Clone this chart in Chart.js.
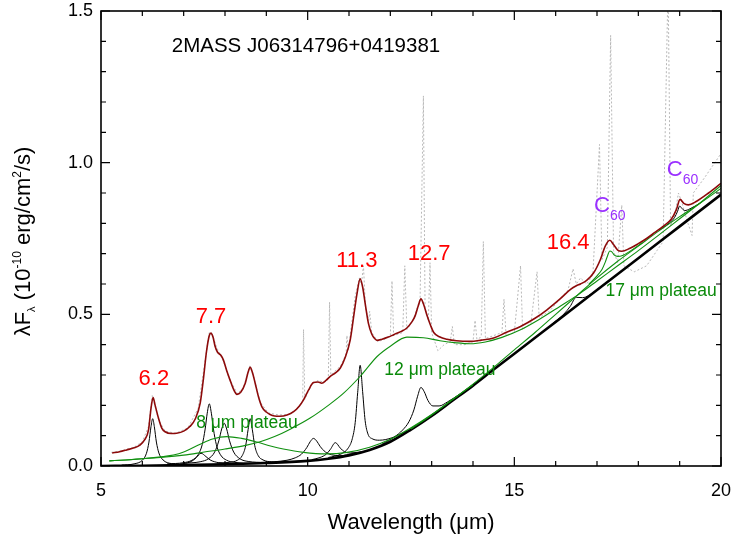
<!DOCTYPE html>
<html><head><meta charset="utf-8">
<script src="https://cdn.jsdelivr.net/npm/chart.js@4.4.1/dist/chart.umd.min.js"></script>
<style>html,body{margin:0;padding:0;background:#fff;}canvas{display:block;}</style>
</head><body>
<canvas id="c" width="731" height="538"></canvas>
<script>
// ---------- tick labels ----------
const xTicks = [5, 10, 15, 20];
const yTicks = [0, 0.5, 1.0, 1.5];
const yTickLabels = ['0.0', '0.5', '1.0', '1.5'];

// ---------- observed spectrum (grey dotted) ----------
const obsWl   = [5.25,5.5,5.8,6.0,6.15,6.24,6.3,6.4,6.55,6.8,7.1,7.35,7.5,7.62,7.7,7.8,7.95,8.1,8.3,8.45,8.6,8.7,8.85,9.05,9.3,9.55,9.75,9.88,9.9,9.93,10.1,10.25,10.4,10.5,10.53,10.56,10.8,10.93,10.95,10.98,11.15,11.25,11.3,11.35,11.4,11.48,11.5,11.55,11.7,11.9,12.0,12.04,12.08,12.3,12.35,12.4,12.55,12.72,12.8,12.84,12.92,12.96,13.0,13.15,13.3,13.45,13.5,13.55,13.8,14.0,14.05,14.1,14.2,14.25,14.3,14.5,14.7,14.75,14.8,15.0,15.15,15.2,15.4,15.55,15.6,15.85,16.1,16.3,16.42,16.5,16.6,16.75,16.9,17.06,17.12,17.25,17.33,17.4,17.5,17.6,17.65,17.9,18.2,18.45,18.6,18.72,18.78,18.9,18.97,19.05,19.2,19.3,19.33,19.6,20.0];
const obsFlux = [0.045,0.05,0.062,0.08,0.13,0.232,0.2,0.15,0.115,0.108,0.125,0.19,0.33,0.44,0.43,0.39,0.35,0.29,0.238,0.26,0.33,0.29,0.21,0.175,0.168,0.17,0.19,0.215,0.45,0.22,0.27,0.282,0.276,0.29,0.54,0.3,0.33,0.37,0.43,0.38,0.56,0.62,0.6,0.66,0.52,0.48,0.51,0.44,0.41,0.42,0.43,0.61,0.43,0.44,0.66,0.45,0.48,0.55,1.22,0.52,0.48,0.67,0.44,0.38,0.4,0.41,0.46,0.4,0.4,0.41,0.48,0.41,0.43,0.74,0.42,0.43,0.44,0.55,0.43,0.44,0.66,0.45,0.47,0.64,0.49,0.51,0.55,0.58,0.65,0.6,0.62,0.6,0.63,1.06,0.68,0.72,1.42,0.71,0.67,0.86,0.66,0.64,0.66,0.71,0.74,1.6,0.79,0.84,0.9,0.87,0.8,0.76,0.9,0.95,1.03];

// ---------- total fit (dark red) ----------
const totalWl   = [5.27,5.45,5.62,5.8,5.94,6.05,6.15,6.21,6.26,6.31,6.39,6.47,6.55,6.7,6.83,7.0,7.15,7.28,7.4,7.48,7.55,7.62,7.66,7.71,7.76,7.82,7.9,7.96,8.04,8.12,8.2,8.29,8.38,8.49,8.56,8.61,8.66,8.73,8.81,8.89,9.0,9.09,9.2,9.33,9.5,9.66,9.8,9.9,10.02,10.14,10.25,10.34,10.45,10.54,10.68,10.79,10.9,11.03,11.12,11.19,11.27,11.33,11.39,11.47,11.55,11.62,11.68,11.8,11.95,12.08,12.25,12.4,12.52,12.6,12.68,12.74,12.8,12.89,12.97,13.05,13.2,13.37,13.6,13.93,14.2,14.5,14.8,15.15,15.5,15.79,16.1,16.36,16.5,16.6,16.75,16.92,17.08,17.2,17.31,17.4,17.5,17.6,17.8,18.0,18.2,18.4,18.6,18.8,18.92,19.01,19.1,19.21,19.4,19.7,20.0];
const totalFlux = [0.043,0.047,0.053,0.06,0.069,0.085,0.119,0.19,0.226,0.2,0.158,0.125,0.113,0.107,0.108,0.115,0.13,0.155,0.207,0.29,0.375,0.43,0.438,0.425,0.395,0.375,0.365,0.35,0.315,0.284,0.255,0.236,0.243,0.273,0.31,0.325,0.31,0.273,0.228,0.196,0.178,0.17,0.165,0.164,0.168,0.179,0.198,0.218,0.25,0.275,0.277,0.273,0.283,0.295,0.308,0.323,0.355,0.416,0.5,0.565,0.617,0.59,0.537,0.47,0.435,0.42,0.414,0.418,0.425,0.433,0.443,0.455,0.475,0.495,0.53,0.551,0.535,0.495,0.465,0.44,0.425,0.418,0.413,0.411,0.415,0.422,0.44,0.46,0.487,0.515,0.55,0.582,0.594,0.6,0.612,0.637,0.68,0.725,0.744,0.73,0.712,0.708,0.718,0.733,0.75,0.77,0.79,0.814,0.845,0.879,0.866,0.861,0.872,0.9,0.932];

// ---------- continuum (thick black) ----------
const contWl   = [5.0,6.0,7.0,8.0,9.0,10.0,10.5,11.0,11.5,12.0,12.5,13.0,13.5,14.0,14.5,15.0,16.0,17.0,18.0,19.0,20.0];
const contFlux = [0.0,0.001,0.003,0.006,0.010,0.017,0.024,0.035,0.053,0.08,0.12,0.165,0.215,0.265,0.318,0.37,0.475,0.58,0.685,0.79,0.895];

// ---------- plateaus (green) ----------
const plat8Wl   = [5.2,5.6,6.0,6.5,6.75,7.0,7.4,7.7,8.04,8.4,8.77,9.1,9.41,9.9,10.46,10.95,11.5,12.0,12.5,13.0,13.5,14.0];
const plat8Flux = [0.017,0.02,0.024,0.031,0.036,0.046,0.072,0.089,0.097,0.091,0.079,0.066,0.056,0.045,0.040,0.045,0.062,0.088,0.126,0.17,0.219,0.268];
const plat12Wl   = [5.2,5.6,6.0,6.5,7.0,7.5,8.0,8.5,8.85,9.2,9.6,10.06,10.5,10.87,11.3,11.68,12.0,12.4,12.8,13.2,13.6,13.93,14.3,14.7,15.15,15.6,16.1,16.6,17.0,17.5,18.0,18.5,19.0,19.5,20.0];
const plat12Flux = [0.017,0.02,0.024,0.029,0.036,0.046,0.056,0.068,0.08,0.097,0.123,0.158,0.2,0.24,0.3,0.361,0.395,0.425,0.423,0.413,0.406,0.403,0.409,0.424,0.449,0.483,0.526,0.57,0.61,0.66,0.71,0.762,0.815,0.868,0.925];
const plat17Wl   = [12.5,13.0,13.5,14.0,14.5,15.0,15.5,16.0,16.5,17.0,17.5,18.0,18.5,19.0,19.5,20.0];
const plat17Flux = [0.122,0.168,0.218,0.27,0.325,0.383,0.44,0.5,0.56,0.62,0.675,0.725,0.775,0.822,0.867,0.915];
const c60gWl   = [16.8,17.0,17.12,17.2,17.26,17.31,17.36,17.42,17.5,17.62,17.82,18.1];
const c60gFlux = [0.599,0.627,0.648,0.672,0.695,0.709,0.706,0.695,0.691,0.694,0.71,0.736];

// ---------- individual bands (thin black) ----------
const b62Wl   = [5.5,5.8,6.0,6.1,6.16,6.21,6.25,6.29,6.34,6.4,6.5,6.7,7.0,7.5];
const b62Flux = [0.003,0.007,0.019,0.042,0.079,0.130,0.156,0.130,0.079,0.043,0.020,0.008,0.005,0.005];
const b74Wl   = [6.8,7.0,7.2,7.3,7.42,7.54,7.64,7.84,8.1];
const b74Flux = [0.006,0.008,0.016,0.027,0.042,0.031,0.020,0.011,0.008];
const b76Wl   = [6.6,7.0,7.2,7.35,7.45,7.52,7.57,7.62,7.67,7.72,7.79,7.89,8.04,8.24,8.64,9.0];
const b76Flux = [0.007,0.011,0.019,0.037,0.071,0.122,0.174,0.205,0.174,0.122,0.071,0.037,0.019,0.012,0.009,0.011];
const b80Wl   = [7.0,7.4,7.6,7.75,7.85,7.92,7.98,8.04,8.11,8.21,8.36,8.56,8.96,9.5];
const b80Flux = [0.009,0.014,0.024,0.046,0.083,0.122,0.141,0.122,0.083,0.046,0.024,0.015,0.012,0.014];
const b86Wl   = [7.8,8.1,8.3,8.42,8.5,8.56,8.61,8.66,8.72,8.8,8.92,9.12,9.42,9.8];
const b86Flux = [0.010,0.012,0.019,0.035,0.067,0.121,0.156,0.121,0.067,0.035,0.020,0.014,0.013,0.016];
const b101Wl   = [9.2,9.5,9.7,9.85,9.98,10.06,10.14,10.22,10.3,10.43,10.58,10.78,11.1];
const b101Flux = [0.014,0.019,0.027,0.039,0.061,0.080,0.091,0.082,0.065,0.046,0.037,0.034,0.041];
const b107Wl   = [10.1,10.3,10.45,10.55,10.67,10.79,10.89,11.04,11.3];
const b107Flux = [0.021,0.028,0.039,0.055,0.077,0.059,0.047,0.043,0.047];
const b113Wl   = [10.5,10.8,10.98,11.08,11.15,11.21,11.27,11.33,11.39,11.46,11.56,11.74,12.04,12.4];
const b113Flux = [0.028,0.039,0.059,0.090,0.143,0.242,0.332,0.245,0.150,0.105,0.090,0.085,0.093,0.116];
const b127Wl   = [11.8,12.1,12.3,12.45,12.57,12.66,12.74,12.82,12.91,13.03,13.18,13.38,13.68];
const b127Flux = [0.072,0.096,0.119,0.146,0.185,0.230,0.259,0.245,0.216,0.198,0.198,0.211,0.237];
const b164Wl   = [15.9,16.2,16.35,16.5,16.65,16.8,17.1];
const b164Flux = [0.467,0.501,0.526,0.556,0.555,0.562,0.592];
const b189Wl   = [18.5,18.75,18.88,18.95,19.0,19.05,19.12,19.25,19.5];
const b189Flux = [0.777,0.801,0.820,0.840,0.857,0.850,0.842,0.848,0.867];

function pts(wl, fl) { return wl.map((w, i) => ({x: w, y: fl[i]})); }

const FONT = '"Liberation Sans", Arial, Helvetica, sans-serif';
const RED = '#8c0a0a', GREEN = '#109010', BLACK = '#000';

function band(wl, fl) {
  return { data: pts(wl, fl), borderColor: BLACK, borderWidth: 1, order: 2,
           cubicInterpolationMode: 'monotone' };
}

const datasets = [
  { data: pts(totalWl, totalFlux), borderColor: RED, borderWidth: 1.6, order: 0, cubicInterpolationMode: 'monotone' },
  { data: pts(plat8Wl, plat8Flux), borderColor: GREEN, borderWidth: 1.1, order: 1, cubicInterpolationMode: 'monotone' },
  { data: pts(plat12Wl, plat12Flux), borderColor: GREEN, borderWidth: 1.1, order: 1, cubicInterpolationMode: 'monotone' },
  { data: pts(plat17Wl, plat17Flux), borderColor: GREEN, borderWidth: 1.1, order: 1, cubicInterpolationMode: 'monotone' },
  { data: pts(c60gWl, c60gFlux), borderColor: GREEN, borderWidth: 1.1, order: 1, cubicInterpolationMode: 'monotone' },
  band(b62Wl, b62Flux), band(b74Wl, b74Flux), band(b76Wl, b76Flux), band(b80Wl, b80Flux),
  band(b86Wl, b86Flux), band(b101Wl, b101Flux), band(b107Wl, b107Flux), band(b113Wl, b113Flux),
  band(b127Wl, b127Flux), band(b164Wl, b164Flux), band(b189Wl, b189Flux),
  { data: pts(contWl, contFlux), borderColor: BLACK, borderWidth: 2.6, order: 3, cubicInterpolationMode: 'monotone' },
  { data: pts(obsWl, obsFlux), borderColor: '#b8b8b8', borderWidth: 1, borderDash: [2, 2], order: 4, tension: 0 }
];

// ---------- text annotations (data coordinates) ----------
const bandLabels = [
  {x: 6.28, y: 0.287, t: '6.2'}, {x: 7.66, y: 0.491, t: '7.7'}, {x: 11.19, y: 0.676, t: '11.3'},
  {x: 12.94, y: 0.699, t: '12.7'}, {x: 16.30, y: 0.735, t: '16.4'}
];
const c60Labels = [{x: 16.93, y: 0.857}, {x: 18.69, y: 0.976}];
const plateauLabels = [
  {x: 8.53, y: 0.142, t: '8 \u03bcm plateau'}, {x: 13.20, y: 0.317, t: '12 \u03bcm plateau'},
  {x: 18.55, y: 0.577, t: '17 \u03bcm plateau'}
];

function drawParts(ctx, parts, cx, cy) {
  let w = 0;
  parts.forEach(p => { ctx.font = p.s + 'px ' + FONT; p.w = ctx.measureText(p.t).width; w += p.w; });
  let x = cx - w / 2;
  parts.forEach(p => { ctx.font = p.s + 'px ' + FONT; ctx.fillText(p.t, x, cy + (p.dy || 0)); x += p.w; });
}

const decor = {
  id: 'decor',
  afterDatasetsDraw(chart) {
    const {ctx, chartArea: a, scales: {x, y}} = chart;
    ctx.save();
    // frame & inward ticks
    ctx.strokeStyle = '#000';
    ctx.lineWidth = 1.6;
    ctx.strokeRect(a.left, a.top, a.right - a.left, a.bottom - a.top);
    ctx.lineWidth = 1.2;
    ctx.beginPath();
    for (let v = 5; v <= 20; v++) {
      const px = x.getPixelForValue(v);
      const len = (v % 5 === 0) ? 9 : 5;
      ctx.moveTo(px, a.bottom); ctx.lineTo(px, a.bottom - len);
      ctx.moveTo(px, a.top); ctx.lineTo(px, a.top + len);
    }
    for (let i = 0; i <= 15; i++) {
      const py = y.getPixelForValue(i / 10);
      const len = (i % 5 === 0) ? 9 : 5;
      ctx.moveTo(a.left, py); ctx.lineTo(a.left + len, py);
      ctx.moveTo(a.right, py); ctx.lineTo(a.right - len, py);
    }
    ctx.stroke();

    ctx.textBaseline = 'middle';
    ctx.textAlign = 'center';
    // title
    ctx.fillStyle = '#000';
    ctx.font = '20.5px ' + FONT;
    ctx.fillText('2MASS J06314796+0419381', x.getPixelForValue(9.96), y.getPixelForValue(1.385));
    // band labels
    ctx.fillStyle = '#ff0000';
    ctx.font = '22px ' + FONT;
    bandLabels.forEach(l => ctx.fillText(l.t, x.getPixelForValue(l.x), y.getPixelForValue(l.y)));
    // plateau labels
    ctx.fillStyle = '#0a8a0a';
    ctx.font = '17.5px ' + FONT;
    plateauLabels.forEach(l => ctx.fillText(l.t, x.getPixelForValue(l.x), y.getPixelForValue(l.y)));
    // C60 labels
    ctx.fillStyle = '#9a30ff';
    ctx.textAlign = 'left';
    c60Labels.forEach(l => {
      const px = x.getPixelForValue(l.x), py = y.getPixelForValue(l.y);
      ctx.font = '22px ' + FONT;
      ctx.fillText('C', px, py);
      const cw = ctx.measureText('C').width;
      ctx.font = '14px ' + FONT;
      ctx.fillText('60', px + cw, py + 10);
    });
    // axis titles
    ctx.fillStyle = '#000';
    ctx.textAlign = 'left';
    ctx.textBaseline = 'alphabetic';
    drawParts(ctx, [{t: 'Wavelength (\u03bcm)', s: 22}], (a.left + a.right) / 2, 529);
    ctx.save();
    ctx.translate(30, (a.top + a.bottom) / 2 + 3);
    ctx.rotate(-Math.PI / 2);
    drawParts(ctx, [
      {t: '\u03bbF', s: 22}, {t: '\u03bb', s: 11, dy: 5}, {t: ' (10', s: 22},
      {t: '-10', s: 12, dy: -9}, {t: ' erg/cm', s: 22}, {t: '2', s: 12, dy: -9}, {t: '/s)', s: 22}
    ], 0, 0);
    ctx.restore();
    ctx.restore();
  }
};

new Chart(document.getElementById('c'), {
  type: 'line',
  data: { datasets: datasets.map(d => Object.assign({ fill: false, pointRadius: 0, pointHoverRadius: 0 }, d)) },
  options: {
    responsive: false, animation: false, devicePixelRatio: 1,
    layout: { padding: { top: 11, right: 10, left: 0, bottom: 0 } },
    plugins: { legend: { display: false }, tooltip: { enabled: false } },
    events: [],
    scales: {
      x: {
        type: 'linear', min: 5, max: 20,
        grid: { display: false, drawTicks: false }, border: { display: false },
        afterBuildTicks: s => { s.ticks = xTicks.map(v => ({value: v})); },
        ticks: { color: '#000', font: { size: 18, family: FONT }, padding: 14, maxRotation: 0,
                 callback: v => String(v) },
        afterFit: s => { s.height = 72; s.paddingLeft = 0; s.paddingRight = 0; }
      },
      y: {
        type: 'linear', min: 0, max: 1.5,
        grid: { display: false, drawTicks: false }, border: { display: false },
        afterBuildTicks: s => { s.ticks = yTicks.map(v => ({value: v})); },
        ticks: { color: '#000', font: { size: 18, family: FONT }, padding: 8,
                 callback: v => yTickLabels[yTicks.indexOf(v)] },
        afterFit: s => { s.width = 101; s.paddingTop = 0; s.paddingBottom = 0; }
      }
    }
  },
  plugins: [decor]
});
</script>
</body></html>
